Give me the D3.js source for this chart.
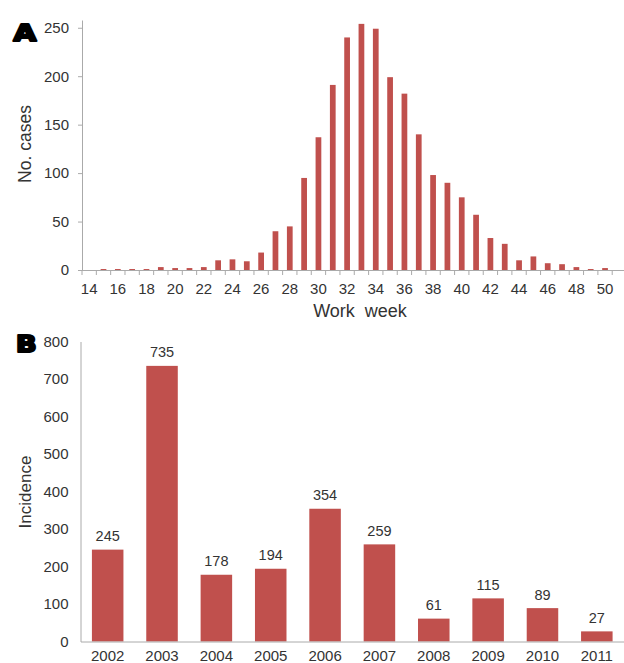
<!DOCTYPE html>
<html>
<head>
<meta charset="utf-8">
<script src="https://cdn.jsdelivr.net/npm/d3@7"></script>
<style>
  body { margin: 0; background: #fff; }
  text { font-family: "Liberation Sans", Arial, sans-serif; fill: #333; }
  .panel-letter { font-family: "DejaVu Sans", sans-serif; font-weight: 900; fill: #000; stroke: #000; stroke-width: 2.2px; stroke-linejoin: round; }
</style>
</head>
<body>
<div id="chart"></div>
<script>
// panel A: cases per work week
var weeks = d3.range(14, 52);
var weekCases = [0, 1, 1, 1, 1, 3, 2, 2, 3, 10, 11, 9, 18, 40, 45, 95, 137,
  191, 240, 254, 249, 199, 182, 140, 98, 90, 75, 57, 33, 27, 10, 14, 7, 6, 3, 1, 2, 0];
var weekTicks = [0, 50, 100, 150, 200, 250];

// panel B: incidence per year
var years = ["2002", "2003", "2004", "2005", "2006", "2007", "2008", "2009", "2010", "2011"];
var incidence = [245, 735, 178, 194, 354, 259, 61, 115, 89, 27];
var incTicks = [0, 100, 200, 300, 400, 500, 600, 700, 800];

var barColor = "#c0504d",
    axisColor = "#aaa";

var svg = d3.select("#chart")
    .append("svg")
    .attr("width", 624)
    .attr("height", 663);

// ---------- panel A ----------
var dataA = weeks.map(function (w, i) { return { week: w, cases: weekCases[i] }; });

var xA = d3.scaleBand()
    .domain(weeks)
    .range([82, 82 + weeks.length * 14.33])
    .paddingInner(0.6)
    .paddingOuter(0.3);
var yA = d3.scaleLinear().domain([0, 258]).range([270, 20]);

var gA = svg.append("g");

gA.selectAll(".barA")
    .data(dataA)
    .enter().append("rect")
    .attr("class", "barA")
    .attr("x", function (d) { return xA(d.week); })
    .attr("width", xA.bandwidth())
    .attr("y", function (d) { return yA(d.cases); })
    .attr("height", function (d) { return yA(0) - yA(d.cases); })
    .attr("fill", barColor);

// y axis
var yAxisA = gA.append("g")
    .attr("transform", "translate(82,0)")
    .call(d3.axisLeft(yA).tickValues(weekTicks).tickSize(4).tickPadding(9).tickSizeOuter(0));
yAxisA.selectAll("text").style("font-size", "15px");

// x axis: labels on even weeks, ticks between categories
var xAxisA = gA.append("g")
    .attr("transform", "translate(0,270)")
    .call(d3.axisBottom(xA)
        .tickValues(weeks.filter(function (w) { return w % 2 === 0; }))
        .tickSize(0).tickPadding(13).tickSizeOuter(0));
xAxisA.selectAll("text").style("font-size", "15px");
xAxisA.select(".domain").attr("d", "M" + xA.range()[0] + ",0.5H" + xA.range()[1]);

gA.selectAll(".tickA")
    .data(weeks.concat([52]))
    .enter().append("line")
    .attr("class", "tickA")
    .attr("x1", function (d) { return d === 52 ? xA.range()[1] : xA(d) + xA.bandwidth() / 2 - xA.step() / 2; })
    .attr("x2", function (d) { return d === 52 ? xA.range()[1] : xA(d) + xA.bandwidth() / 2 - xA.step() / 2; })
    .attr("y1", 270)
    .attr("y2", 275);

gA.selectAll(".domain, .tick line, .tickA").attr("stroke", axisColor);

gA.append("text")
    .attr("x", 360)
    .attr("y", 316.5)
    .attr("text-anchor", "middle")
    .style("font-size", "18px")
    .style("white-space", "pre")
    .text("Work  week");

gA.append("text")
    .attr("transform", "translate(31,144) rotate(-90)")
    .attr("text-anchor", "middle")
    .style("font-size", "17.5px")
    .text("No. cases");

svg.append("text")
    .attr("class", "panel-letter")
    .attr("transform", "translate(13.5,41) scale(1.25,1)")
    .style("font-size", "23.5px")
    .text("A");

// ---------- panel B ----------
var dataB = years.map(function (y, i) { return { year: y, value: incidence[i] }; });

var xB = d3.scaleBand()
    .domain(years)
    .range([80.5, 624])
    .paddingInner(0.42)
    .paddingOuter(0.21);
var yB = d3.scaleLinear().domain([0, 800]).range([641.5, 341.5]);

var gB = svg.append("g");

gB.selectAll(".barB")
    .data(dataB)
    .enter().append("rect")
    .attr("class", "barB")
    .attr("x", function (d) { return xB(d.year); })
    .attr("width", xB.bandwidth())
    .attr("y", function (d) { return yB(d.value); })
    .attr("height", function (d) { return yB(0) - yB(d.value); })
    .attr("fill", barColor);

gB.selectAll(".valB")
    .data(dataB)
    .enter().append("text")
    .attr("class", "valB")
    .attr("x", function (d) { return xB(d.year) + xB.bandwidth() / 2; })
    .attr("y", function (d) { return yB(d.value) - 8.5; })
    .attr("text-anchor", "middle")
    .style("font-size", "14.5px")
    .text(function (d) { return d.value; });

var yAxisB = gB.append("g")
    .attr("transform", "translate(80.5,0)")
    .call(d3.axisLeft(yB).tickValues(incTicks).tickSize(0).tickPadding(12));
yAxisB.selectAll("text").style("font-size", "15px");

var xAxisB = gB.append("g")
    .attr("transform", "translate(0,641.5)")
    .call(d3.axisBottom(xB).tickSize(0).tickPadding(9).tickSizeOuter(0));
xAxisB.selectAll("text").style("font-size", "15px");

gB.selectAll(".domain").attr("stroke", axisColor);

gB.append("text")
    .attr("transform", "translate(30.5,492) rotate(-90)")
    .attr("text-anchor", "middle")
    .style("font-size", "17px")
    .text("Incidence");

svg.append("text")
    .attr("class", "panel-letter")
    .attr("transform", "translate(16,352) scale(1.2,1)")
    .style("font-size", "22.5px")
    .text("B");
</script>
</body>
</html>
